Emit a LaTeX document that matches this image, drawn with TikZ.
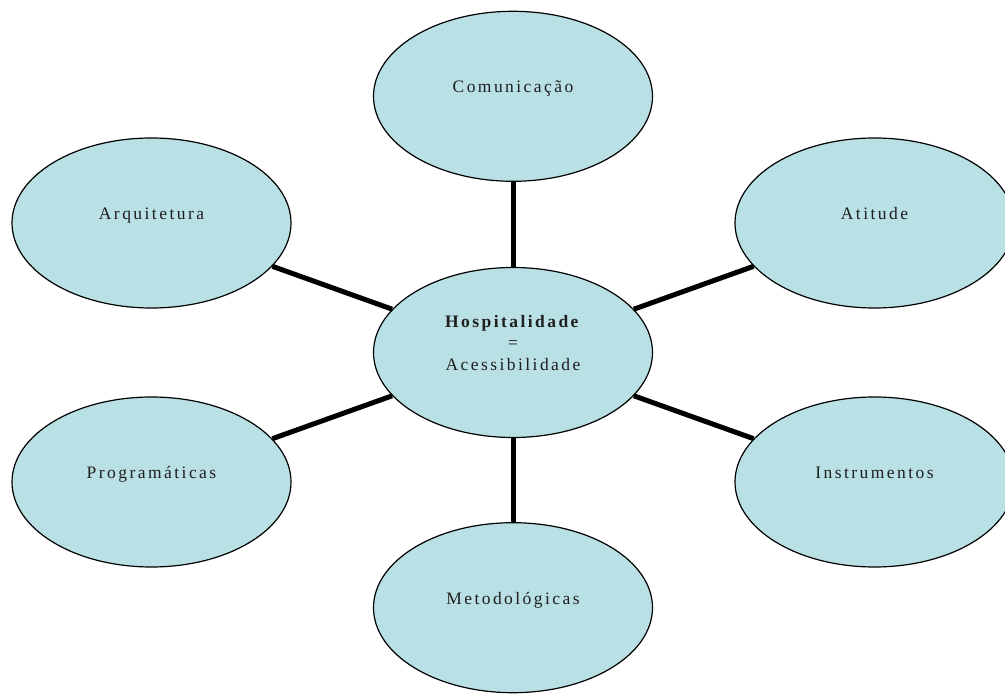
\documentclass[tikz,border=0pt]{standalone}
\usepackage{fontspec}
\setmainfont{Liberation Serif}[LetterSpace=14]
\usepackage{xcolor}
\usetikzlibrary{shapes.geometric,positioning}
\definecolor{azulbolha}{RGB}{185,224,228}
\tikzstyle{bolha} = [ellipse, draw, line width=1.2pt, fill=azulbolha, minimum width=279pt, minimum height=170pt, inner sep=0pt, text=black!88, font=\fontsize{17.5}{21.3}\selectfont, text height=12pt, text depth=19pt]
\tikzstyle{raio} = [line width=5pt]

\begin{document}
\begin{tikzpicture}
            \useasboundingbox (0,0) rectangle (1005pt,694pt);
            % 中心节点
            \node[bolha, text height=12pt, text depth=62pt] (hosp) at (513pt,341.5pt)
                {\begin{tabular}[t]{@{}c@{}}\textbf{Hospitalidade}\\=\\Acessibilidade\end{tabular}};
            
            % 周围节点
            \node[bolha, above=85pt of hosp] (com) {Comunicação};
            \node[bolha, below=84pt of hosp] (met) {Metodológicas};
            \node[bolha] (arq) at ([shift={(-361.5pt,129.5pt)}]hosp) {Arquitetura};
            \node[bolha] (ati) at ([shift={(361.5pt,129.5pt)}]hosp) {Atitude};
            \node[bolha] (pro) at ([shift={(-361.5pt,-129.5pt)}]hosp) {Programáticas};
            \node[bolha] (ins) at ([shift={(361.5pt,-129.5pt)}]hosp) {Instrumentos};
            
            % 连线
            \draw[raio] (hosp) -- (com);
            \draw[raio] (hosp) -- (met);
            \draw[raio] (hosp) -- (arq);
            \draw[raio] (hosp) -- (ati);
            \draw[raio] (hosp) -- (pro);
            \draw[raio] (hosp) -- (ins);
        \end{tikzpicture}
\end{document}
